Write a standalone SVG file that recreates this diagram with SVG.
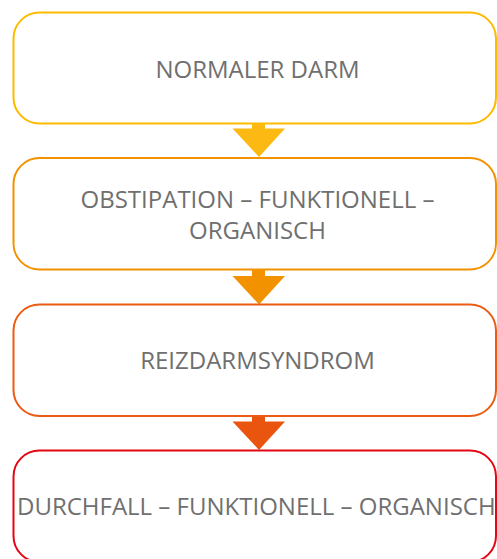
<svg xmlns="http://www.w3.org/2000/svg" width="497" height="559" viewBox="0 0 497 559">
<style>
.box{fill:#ffffff;stroke-width:2}
.lbl{font-family:"Open Sans","Liberation Sans",sans-serif;font-size:24px;fill:#706f6f;text-anchor:middle}
</style>
<rect width="497" height="559" fill="#ffffff"/>
<g id="connectors">
<polygon points="252,123 265,123 265,128.5 285,128.5 259,157 232.5,128.5 252,128.5" fill="#fdb913"/>
<polygon points="252,269 265,269 265,276 285,276 259,304.5 232.5,276 252,276" fill="#f39200"/>
<polygon points="252,416 265,416 265,421.5 285,421.5 259,450 232.5,421.5 252,421.5" fill="#e9550f"/>
</g>
<g id="node1">
<rect class="box" x="13.5" y="12.5" width="482.5" height="111" rx="26" stroke="#fdbb00"/>
<text class="lbl" x="257.5" y="78.3">NORMALER DARM</text>
</g>
<g id="node2">
<rect class="box" x="13.5" y="158" width="482.5" height="111.5" rx="26" stroke="#f39200"/>
<text class="lbl" x="257.5" y="208.3">OBSTIPATION – FUNKTIONELL –</text>
<text class="lbl" x="257.5" y="239.3">ORGANISCH</text>
</g>
<g id="node3">
<rect class="box" x="13.5" y="304.5" width="482.5" height="111.5" rx="26" stroke="#eb5b13"/>
<text class="lbl" x="257.5" y="369.3">REIZDARMSYNDROM</text>
</g>
<g id="node4">
<rect class="box" x="13.5" y="450.5" width="482.5" height="111.5" rx="26" stroke="#e30613"/>
<text class="lbl" x="256.3" y="515">DURCHFALL – FUNKTIONELL – ORGANISCH</text>
</g>
</svg>
